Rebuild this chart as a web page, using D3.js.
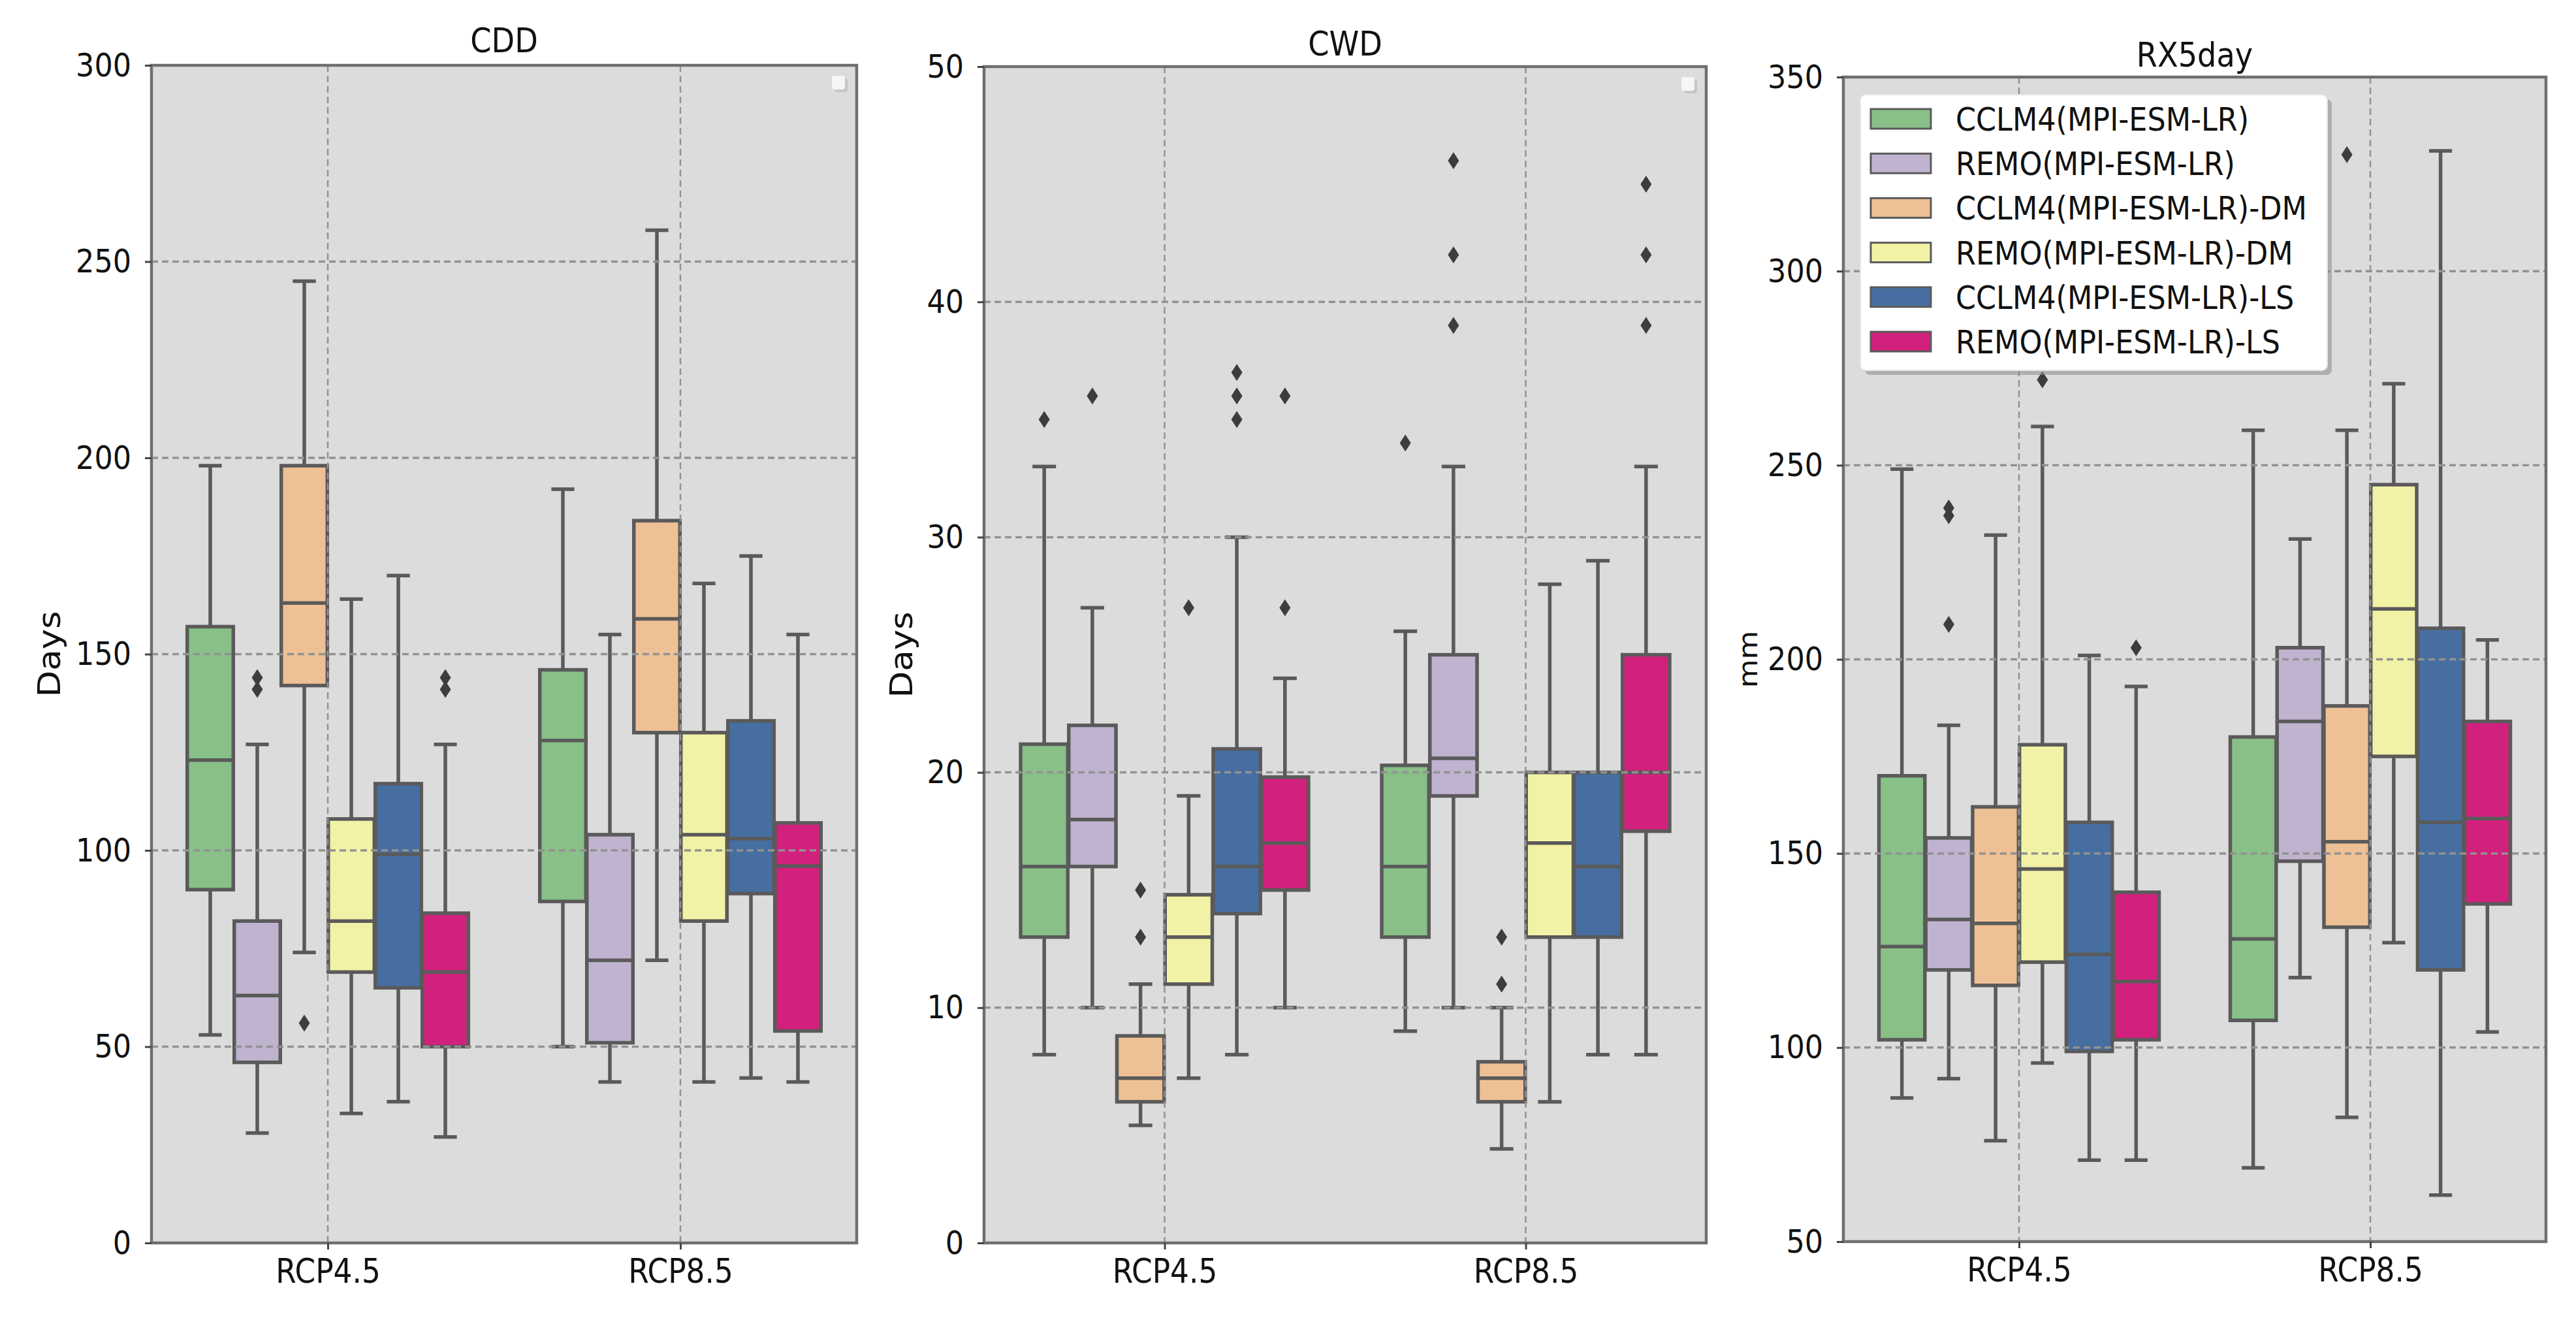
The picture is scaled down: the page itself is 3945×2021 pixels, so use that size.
<!DOCTYPE html>
<html>
<head>
<meta charset="utf-8">
<script src="https://cdn.jsdelivr.net/npm/d3@7"></script>
<style>
  body { margin: 0; background: #fff; }
  svg { display: block; }
  text { font-family: "DejaVu Sans", sans-serif; fill: #111; }
</style>
</head>
<body>
<div id="chart"></div>
<script>
// three boxplot panels, six model runs per scenario

const scenarios = ["RCP4.5", "RCP8.5"];
const models = [
  "CCLM4(MPI-ESM-LR)",
  "REMO(MPI-ESM-LR)",
  "CCLM4(MPI-ESM-LR)-DM",
  "REMO(MPI-ESM-LR)-DM",
  "CCLM4(MPI-ESM-LR)-LS",
  "REMO(MPI-ESM-LR)-LS"
];
const colors = ["#88c088", "#bfb3cf", "#eec095", "#f2f2a6", "#476ea1", "#d2207d"];

// [lower whisker, Q1, median, Q3, upper whisker], one row per model
const cdd45 = [
  [53, 90, 123, 157, 198],
  [28, 46, 63, 82, 127],
  [74, 142, 163, 198, 245],
  [33, 69, 82, 108, 164],
  [36, 65, 99, 117, 170],
  [27, 50, 69, 84, 127]
];
const cdd85 = [
  [50, 87, 128, 146, 192],
  [41, 51, 72, 104, 155],
  [72, 130, 159, 184, 258],
  [41, 82, 104, 130, 168],
  [42, 89, 103, 133, 175],
  [41, 54, 96, 107, 155]
];
// [scenario, model, value]
const cddFliers = [
  [0, 1, 141], [0, 1, 144], [0, 2, 56], [0, 5, 141], [0, 5, 144]
];
const cddTicks = [0, 50, 100, 150, 200, 250, 300];

const cwd45 = [
  [8, 13, 16, 21.2, 33],
  [10, 16, 18, 22, 27],
  [5, 6, 7, 8.8, 11],
  [7, 11, 13, 14.8, 19],
  [8, 14, 16, 21, 30],
  [10, 15, 17, 19.8, 24]
];
const cwd85 = [
  [9, 13, 16, 20.3, 26],
  [10, 19, 20.6, 25, 33],
  [4, 6, 7, 7.7, 10],
  [6, 13, 17, 20, 28],
  [8, 13, 16, 20, 29],
  [8, 17.5, 20, 25, 33]
];
const cwdFliers = [
  [0, 0, 35], [0, 1, 36], [0, 2, 13], [0, 2, 15], [0, 3, 27],
  [0, 4, 35], [0, 4, 36], [0, 4, 37], [0, 5, 27], [0, 5, 36],
  [1, 0, 34], [1, 1, 39], [1, 1, 42], [1, 1, 46], [1, 2, 11], [1, 2, 13],
  [1, 5, 39], [1, 5, 42], [1, 5, 45]
];
const cwdTicks = [0, 10, 20, 30, 40, 50];

const rx45 = [
  [87, 102, 126, 170, 249],
  [92, 120, 133, 154, 183],
  [76, 116, 132, 162, 232],
  [96, 122, 146, 178, 260],
  [71, 99, 124, 158, 201],
  [71, 102, 117, 140, 193]
];
const rx85 = [
  [69, 107, 128, 180, 259],
  [118, 148, 184, 203, 231],
  [82, 131, 153, 188, 259],
  [127, 175, 213, 245, 271],
  [62, 120, 158, 208, 331],
  [104, 137, 159, 184, 205]
];
const rxFliers = [
  [0, 1, 209], [0, 1, 237], [0, 1, 239], [0, 3, 272], [0, 5, 203],
  [1, 2, 330]
];
const rxTicks = [50, 100, 150, 200, 250, 300, 350];

const W = 3945, H = 2021;
const squeeze = 0.89;      // the picture's text is a little narrow
const edge = "#5a5a5a";

const panels = [
  { title: "CDD", ylabel: "Days", stats: [cdd45, cdd85], fliers: cddFliers, ticks: cddTicks,
    domain: [0, 300], left: 232, right: 1312, top: 100, bottom: 1903,
    titleY: 80, labelX: 92, labelSize: 53, legend: "empty" },
  { title: "CWD", ylabel: "Days", stats: [cwd45, cwd85], fliers: cwdFliers, ticks: cwdTicks,
    domain: [0, 50], left: 1507, right: 2613, top: 102, bottom: 1903,
    titleY: 85, labelX: 1397, labelSize: 53, legend: "empty" },
  { title: "RX5day", ylabel: "mm", stats: [rx45, rx85], fliers: rxFliers, ticks: rxTicks,
    domain: [50, 350], left: 2823, right: 3899, top: 118, bottom: 1901,
    titleY: 102, labelX: 2691, labelSize: 45, legend: "full" }
];

const svg = d3.select("#chart")
  .append("svg")
  .attr("width", W)
  .attr("height", H);

// seaborn-style dodge of the hue boxes
const groupWidth = 0.8;
const each = groupWidth / models.length;
const offsets = models.map((_, i) => (i - (models.length - 1) / 2) * each);
const boxWidth = each * 0.98;

const diamond = "M0,-13L8.5,0L0,13L-8.5,0Z";

panels.forEach(drawPanel);

function drawPanel(p) {
  const x = d3.scaleLinear().domain([-0.5, 1.5]).range([p.left, p.right]);
  const y = d3.scaleLinear().domain(p.domain).range([p.bottom, p.top]);
  const half = (x(boxWidth) - x(0)) / 2;

  const g = svg.append("g");

  g.append("rect")
    .attr("x", p.left).attr("y", p.top)
    .attr("width", p.right - p.left).attr("height", p.bottom - p.top)
    .attr("fill", "#dcdcdc");

  const rows = [];
  p.stats.forEach((set, s) => set.forEach((st, m) => rows.push({ s, m, st })));
  const cx = d => x(d.s + offsets[d.m]);

  const boxes = g.append("g")
    .attr("stroke", edge)
    .attr("stroke-width", 5.5)
    .selectAll("g")
    .data(rows)
    .enter().append("g");

  // whiskers
  boxes.append("line")
    .attr("x1", cx).attr("x2", cx)
    .attr("y1", d => y(d.st[3])).attr("y2", d => y(d.st[4]));
  boxes.append("line")
    .attr("x1", cx).attr("x2", cx)
    .attr("y1", d => y(d.st[1])).attr("y2", d => y(d.st[0]));

  // caps
  [0, 4].forEach(k => {
    boxes.append("line")
      .attr("x1", d => cx(d) - half / 2).attr("x2", d => cx(d) + half / 2)
      .attr("y1", d => y(d.st[k])).attr("y2", d => y(d.st[k]));
  });

  boxes.append("rect")
    .attr("x", d => cx(d) - half)
    .attr("y", d => y(d.st[3]))
    .attr("width", half * 2)
    .attr("height", d => y(d.st[1]) - y(d.st[3]))
    .attr("fill", d => colors[d.m]);

  boxes.append("line")
    .attr("x1", d => cx(d) - half).attr("x2", d => cx(d) + half)
    .attr("y1", d => y(d.st[2])).attr("y2", d => y(d.st[2]));

  // outliers
  g.append("g")
    .selectAll("path")
    .data(p.fliers)
    .enter().append("path")
    .attr("d", diamond)
    .attr("transform", d => `translate(${x(d[0] + offsets[d[1]])},${y(d[2])})`)
    .attr("fill", "#3d3d3d");

  // grid sits above the boxes in the picture
  const grid = g.append("g")
    .attr("stroke", "#929292")
    .attr("stroke-dasharray", "10,6");
  grid.selectAll("line.h")
    .data(p.ticks)
    .enter().append("line")
    .attr("class", "h")
    .attr("x1", p.left).attr("x2", p.right)
    .attr("y1", d => y(d)).attr("y2", d => y(d))
    .attr("stroke-width", 3.5);
  grid.selectAll("line.v")
    .data(scenarios)
    .enter().append("line")
    .attr("class", "v")
    .attr("x1", (d, i) => x(i)).attr("x2", (d, i) => x(i))
    .attr("y1", p.top).attr("y2", p.bottom)
    .attr("stroke-width", 2.5);

  // frame
  g.append("rect")
    .attr("x", p.left).attr("y", p.top)
    .attr("width", p.right - p.left).attr("height", p.bottom - p.top)
    .attr("fill", "none")
    .attr("stroke", "#6f6f6f")
    .attr("stroke-width", 4.5);

  // axes
  const yAxis = g.append("g")
    .attr("transform", `translate(${p.left},0)`)
    .call(d3.axisLeft(y).tickValues(p.ticks).tickSize(10).tickPadding(21));
  yAxis.select(".domain").remove();
  yAxis.selectAll("line").attr("stroke", "#444").attr("stroke-width", 3);
  yAxis.selectAll("text")
    .attr("x", -31 / squeeze)
    .attr("transform", `scale(${squeeze},1)`)
    .style("font-size", "50px")
    .style("font-family", "DejaVu Sans")
    .attr("fill", "#111");

  const xAxis = g.append("g")
    .attr("transform", `translate(0,${p.bottom})`)
    .call(d3.axisBottom(x).tickValues([0, 1]).tickFormat(i => scenarios[i])
      .tickSize(10).tickPadding(15));
  xAxis.select(".domain").remove();
  xAxis.selectAll("line").attr("stroke", "#444").attr("stroke-width", 3);
  xAxis.selectAll("text")
    .attr("transform", `scale(${squeeze},1)`)
    .style("font-size", "51px")
    .style("font-family", "DejaVu Sans")
    .attr("fill", "#111");

  // title and axis label
  g.append("text")
    .attr("transform", `translate(${(p.left + p.right) / 2},${p.titleY}) scale(${squeeze},1)`)
    .attr("text-anchor", "middle")
    .style("font-size", "52px")
    .text(p.title);

  g.append("text")
    .attr("transform", `translate(${p.labelX},${(p.top + p.bottom) / 2}) scale(${squeeze},1) rotate(-90)`)
    .attr("text-anchor", "middle")
    .style("font-size", p.labelSize + "px")
    .text(p.ylabel);

  if (p.legend === "empty") drawEmptyLegend(p);
  else drawLegend(p);
}

function drawEmptyLegend(p) {
  const lx = p.right - 38, ly = p.top + 16;
  svg.append("rect")
    .attr("x", lx + 4).attr("y", ly + 4)
    .attr("width", 20).attr("height", 21).attr("rx", 4)
    .attr("fill", "#b8b8b8").attr("opacity", 0.6);
  svg.append("rect")
    .attr("x", lx).attr("y", ly)
    .attr("width", 20).attr("height", 21).attr("rx", 4)
    .attr("fill", "#f6f6f6");
}

function drawLegend(p) {
  const lx = 2849, ly = 145, lw = 715, lh = 422;
  const lg = svg.append("g");

  lg.append("rect")
    .attr("x", lx + 7).attr("y", ly + 7)
    .attr("width", lw).attr("height", lh).attr("rx", 8)
    .attr("fill", "#8a8a8a").attr("opacity", 0.55);
  lg.append("rect")
    .attr("x", lx).attr("y", ly)
    .attr("width", lw).attr("height", lh).attr("rx", 8)
    .attr("fill", "#fff")
    .attr("stroke", "#e6e6e6").attr("stroke-width", 2);

  const row = d3.scaleLinear().domain([0, models.length - 1]).range([ly + 37, ly + 378]);

  const items = lg.selectAll("g.item")
    .data(models)
    .enter().append("g")
    .attr("class", "item")
    .attr("transform", (d, i) => `translate(${lx},${row(i)})`);

  items.append("rect")
    .attr("x", 16).attr("y", -15)
    .attr("width", 92).attr("height", 30)
    .attr("fill", (d, i) => colors[i])
    .attr("stroke", edge).attr("stroke-width", 3);

  items.append("text")
    .attr("transform", `translate(146,0) scale(${squeeze},1)`)
    .attr("dy", "0.36em")
    .style("font-size", "50px")
    .text(d => d);
}
</script>
</body>
</html>
